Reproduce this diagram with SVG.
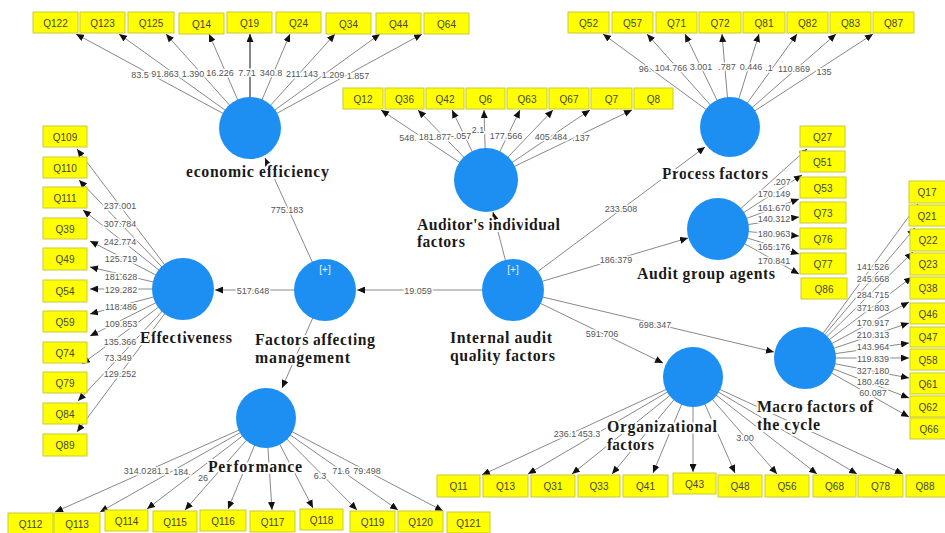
<svg xmlns="http://www.w3.org/2000/svg" width="945" height="533" viewBox="0 0 945 533">
<defs>
<marker id="ah" markerUnits="userSpaceOnUse" markerWidth="8" markerHeight="7" refX="8" refY="3.5" orient="auto"><path d="M0,0 L8,3.5 L0,7 z" fill="#111"/></marker>
</defs>
<style>
.c{stroke:#888;stroke-width:1;fill:none;marker-end:url(#ah)}
.l{font-family:"Liberation Sans",Arial,sans-serif;font-size:9px;fill:#555;text-anchor:middle;stroke:#fff;stroke-width:3;paint-order:stroke;stroke-linejoin:round}
.box{fill:#ffff00;stroke:#c9c93a;stroke-width:1}
.bt{font-family:"Liberation Sans",Arial,sans-serif;font-size:10px;fill:#444;text-anchor:middle}
.lv{fill:#1e8ff2}
.nm{font-family:"Liberation Serif","Times New Roman",serif;font-weight:bold;font-size:16px;fill:#1a1a1a;stroke:#fff;stroke-width:4;paint-order:stroke;stroke-linejoin:round}
.pl{font-family:"Liberation Sans",Arial,sans-serif;font-size:10px;fill:#e8f2ff;text-anchor:middle}
</style>
<rect width="945" height="533" fill="#fff"/>
<g id="connectors">
<line class="c" x1="325" y1="290" x2="215" y2="290"/>
<line class="c" x1="513" y1="290" x2="357" y2="290"/>
<line class="c" x1="325" y1="290" x2="265" y2="158"/>
<line class="c" x1="325" y1="290" x2="282" y2="388"/>
<line class="c" x1="513" y1="290" x2="493" y2="212"/>
<line class="c" x1="513" y1="290" x2="705" y2="147"/>
<line class="c" x1="513" y1="290" x2="688" y2="238"/>
<line class="c" x1="513" y1="290" x2="774" y2="352"/>
<line class="c" x1="513" y1="290" x2="663" y2="363"/>
<line class="c" x1="250" y1="128" x2="76" y2="34"/>
<line class="c" x1="250" y1="128" x2="119" y2="34"/>
<line class="c" x1="250" y1="128" x2="166" y2="34"/>
<line class="c" x1="250" y1="128" x2="209" y2="34"/>
<line class="c" x1="250" y1="128" x2="250" y2="34" style="stroke-width:2"/>
<line class="c" x1="250" y1="128" x2="290" y2="34"/>
<line class="c" x1="250" y1="128" x2="335" y2="34"/>
<line class="c" x1="250" y1="128" x2="380" y2="34"/>
<line class="c" x1="250" y1="128" x2="422" y2="34"/>
<line class="c" x1="486" y1="180" x2="381" y2="110"/>
<line class="c" x1="486" y1="180" x2="418" y2="110"/>
<line class="c" x1="486" y1="180" x2="452" y2="110"/>
<line class="c" x1="486" y1="180" x2="484" y2="110"/>
<line class="c" x1="486" y1="180" x2="520" y2="110"/>
<line class="c" x1="486" y1="180" x2="553" y2="110"/>
<line class="c" x1="486" y1="180" x2="590" y2="110"/>
<line class="c" x1="486" y1="180" x2="632" y2="110"/>
<line class="c" x1="730" y1="127" x2="603" y2="34"/>
<line class="c" x1="730" y1="127" x2="647" y2="34"/>
<line class="c" x1="730" y1="127" x2="685" y2="34"/>
<line class="c" x1="730" y1="127" x2="722" y2="34"/>
<line class="c" x1="730" y1="127" x2="759" y2="34"/>
<line class="c" x1="730" y1="127" x2="797" y2="34"/>
<line class="c" x1="730" y1="127" x2="836" y2="34"/>
<line class="c" x1="730" y1="127" x2="873" y2="34"/>
<line class="c" x1="718" y1="229" x2="807" y2="149"/>
<line class="c" x1="718" y1="229" x2="802" y2="175"/>
<line class="c" x1="718" y1="229" x2="799" y2="199"/>
<line class="c" x1="718" y1="229" x2="799" y2="217"/>
<line class="c" x1="718" y1="229" x2="799" y2="236"/>
<line class="c" x1="718" y1="229" x2="799" y2="254"/>
<line class="c" x1="718" y1="229" x2="799" y2="274"/>
<line class="c" x1="805" y1="358" x2="918" y2="204"/>
<line class="c" x1="805" y1="358" x2="915" y2="228"/>
<line class="c" x1="805" y1="358" x2="913" y2="252"/>
<line class="c" x1="805" y1="358" x2="912" y2="277"/>
<line class="c" x1="805" y1="358" x2="909" y2="302"/>
<line class="c" x1="805" y1="358" x2="909" y2="323"/>
<line class="c" x1="805" y1="358" x2="909" y2="343"/>
<line class="c" x1="805" y1="358" x2="909" y2="358"/>
<line class="c" x1="805" y1="358" x2="909" y2="378"/>
<line class="c" x1="805" y1="358" x2="909" y2="398"/>
<line class="c" x1="805" y1="358" x2="909" y2="417"/>
<line class="c" x1="183" y1="289" x2="77" y2="149"/>
<line class="c" x1="183" y1="289" x2="79" y2="180"/>
<line class="c" x1="183" y1="289" x2="83" y2="210"/>
<line class="c" x1="183" y1="289" x2="90" y2="241"/>
<line class="c" x1="183" y1="289" x2="90" y2="267"/>
<line class="c" x1="183" y1="289" x2="90" y2="289"/>
<line class="c" x1="183" y1="289" x2="90" y2="314"/>
<line class="c" x1="183" y1="289" x2="90" y2="336"/>
<line class="c" x1="183" y1="289" x2="82" y2="364"/>
<line class="c" x1="183" y1="289" x2="78" y2="401"/>
<line class="c" x1="183" y1="289" x2="77" y2="432"/>
<line class="c" x1="266" y1="418" x2="55" y2="512"/>
<line class="c" x1="266" y1="418" x2="100" y2="512"/>
<line class="c" x1="266" y1="418" x2="147" y2="509"/>
<line class="c" x1="266" y1="418" x2="185" y2="510"/>
<line class="c" x1="266" y1="418" x2="228" y2="509"/>
<line class="c" x1="266" y1="418" x2="272" y2="510"/>
<line class="c" x1="266" y1="418" x2="313" y2="508"/>
<line class="c" x1="266" y1="418" x2="357" y2="510"/>
<line class="c" x1="266" y1="418" x2="398" y2="510"/>
<line class="c" x1="266" y1="418" x2="443" y2="511"/>
<line class="c" x1="693" y1="377" x2="482" y2="475"/>
<line class="c" x1="693" y1="377" x2="528" y2="474"/>
<line class="c" x1="693" y1="377" x2="572" y2="474"/>
<line class="c" x1="693" y1="377" x2="612" y2="474"/>
<line class="c" x1="693" y1="377" x2="653" y2="473"/>
<line class="c" x1="693" y1="377" x2="693" y2="472"/>
<line class="c" x1="693" y1="377" x2="735" y2="473"/>
<line class="c" x1="693" y1="377" x2="777" y2="474"/>
<line class="c" x1="693" y1="377" x2="817" y2="474"/>
<line class="c" x1="693" y1="377" x2="857" y2="474"/>
<line class="c" x1="693" y1="377" x2="903" y2="474"/>
<text class="l" x="253" y="294">517.648</text>
<text class="l" x="418" y="294">19.059</text>
<text class="l" x="287" y="213">775.183</text>
<text class="l" x="621" y="212">233.508</text>
<text class="l" x="616" y="263">186.379</text>
<text class="l" x="655" y="328">698.347</text>
<text class="l" x="602" y="337">591.706</text>
<text class="l" x="140" y="78">83.5</text>
<text class="l" x="165" y="77">91.863</text>
<text class="l" x="193" y="77">1.390</text>
<text class="l" x="220" y="76">16.226</text>
<text class="l" x="247" y="76">7.71</text>
<text class="l" x="271" y="76">340.8</text>
<text class="l" x="302" y="77">211.143</text>
<text class="l" x="333" y="78">1.209</text>
<text class="l" x="358" y="79">1.857</text>
<text class="l" x="408" y="141">548.</text>
<text class="l" x="435" y="140">181.877</text>
<text class="l" x="461" y="139">-.057</text>
<text class="l" x="478" y="133">2.1</text>
<text class="l" x="506" y="139">177.566</text>
<text class="l" x="551" y="140">405.484</text>
<text class="l" x="581" y="141">.137</text>
<text class="l" x="645" y="72">96.</text>
<text class="l" x="671" y="71">104.766</text>
<text class="l" x="701" y="70">3.001</text>
<text class="l" x="727" y="70">.787</text>
<text class="l" x="751" y="70">0.446</text>
<text class="l" x="769" y="71">.1</text>
<text class="l" x="794" y="72">110.869</text>
<text class="l" x="824" y="75">135</text>
<text class="l" x="782" y="185">.207</text>
<text class="l" x="774" y="197">170.149</text>
<text class="l" x="774" y="211">161.670</text>
<text class="l" x="774" y="222">140.312</text>
<text class="l" x="774" y="237">180.963</text>
<text class="l" x="774" y="250">165.176</text>
<text class="l" x="774" y="264">170.841</text>
<text class="l" x="873" y="270">141.526</text>
<text class="l" x="873" y="282">245.668</text>
<text class="l" x="873" y="298">284.715</text>
<text class="l" x="873" y="311">371.803</text>
<text class="l" x="873" y="326">170.917</text>
<text class="l" x="873" y="338">210.313</text>
<text class="l" x="873" y="350">143.964</text>
<text class="l" x="873" y="362">119.839</text>
<text class="l" x="873" y="374">327.180</text>
<text class="l" x="873" y="385">180.462</text>
<text class="l" x="873" y="396">60.087</text>
<text class="l" x="120" y="209">237.001</text>
<text class="l" x="120" y="227">307.784</text>
<text class="l" x="120" y="245">242.774</text>
<text class="l" x="121" y="262">125.719</text>
<text class="l" x="121" y="280">181.628</text>
<text class="l" x="121" y="293">129.282</text>
<text class="l" x="121" y="310">118.486</text>
<text class="l" x="121" y="327">109.853</text>
<text class="l" x="120" y="345">135.366</text>
<text class="l" x="118" y="361">73.349</text>
<text class="l" x="120" y="377">129.252</text>
<text class="l" x="135" y="474">314.0</text>
<text class="l" x="158" y="474">281.1</text>
<text class="l" x="182" y="475">184.</text>
<text class="l" x="203" y="481">26</text>
<text class="l" x="320" y="479">6.3</text>
<text class="l" x="341" y="474">71.6</text>
<text class="l" x="367" y="474">79.498</text>
<text class="l" x="565" y="437">236.1</text>
<text class="l" x="589" y="437">453.3</text>
<text class="l" x="745" y="441">3.00</text>
</g>
<g id="economic_efficiency">
<circle class="lv" cx="250" cy="128" r="31"/>
<text class="nm" x="186" y="177" textLength="143">economic efficiency</text>
</g>
<g id="auditors_individual_factors">
<circle class="lv" cx="486" cy="180" r="32"/>
<text class="nm" x="417" y="230" textLength="143">Auditor's individual</text>
<text class="nm" x="417" y="247" textLength="48">factors</text>
</g>
<g id="process_factors">
<circle class="lv" cx="730" cy="127" r="30"/>
<text class="nm" x="662" y="179" textLength="106">Process factors</text>
</g>
<g id="audit_group_agents">
<circle class="lv" cx="718" cy="229" r="31"/>
<text class="nm" x="637" y="279" textLength="138">Audit group agents</text>
</g>
<g id="macro_factors">
<circle class="lv" cx="805" cy="358" r="31"/>
<text class="nm" x="757" y="412" textLength="116">Macro factors of</text>
<text class="nm" x="757" y="430" textLength="63">the cycle</text>
</g>
<g id="organizational_factors">
<circle class="lv" cx="693" cy="377" r="30"/>
<text class="nm" x="607" y="432" textLength="110">Organizational</text>
<text class="nm" x="607" y="450" textLength="47">factors</text>
</g>
<g id="internal_audit_quality_factors">
<circle class="lv" cx="513" cy="290" r="31"/>
<text class="pl" x="513" y="273">[+]</text>
<text class="nm" x="450" y="343" textLength="102">Internal audit</text>
<text class="nm" x="450" y="361" textLength="105">quality factors</text>
</g>
<g id="factors_affecting_management">
<circle class="lv" cx="325" cy="290" r="31"/>
<text class="pl" x="325" y="273">[+]</text>
<text class="nm" x="255" y="345" textLength="120">Factors affecting</text>
<text class="nm" x="255" y="363" textLength="95">management</text>
</g>
<g id="effectiveness">
<circle class="lv" cx="183" cy="289" r="31"/>
<text class="nm" x="140" y="343" textLength="92">Effectiveness</text>
</g>
<g id="performance">
<circle class="lv" cx="266" cy="418" r="30"/>
<text class="nm" x="208" y="472" textLength="94">Performance</text>
</g>
<g id="Q122"><rect class="box" x="33" y="12" width="45" height="21"/><text class="bt" x="55.5" y="26.5">Q122</text></g>
<g id="Q123"><rect class="box" x="80" y="12" width="45" height="21"/><text class="bt" x="102.5" y="26.5">Q123</text></g>
<g id="Q125"><rect class="box" x="128" y="12" width="46" height="21"/><text class="bt" x="151" y="26.5">Q125</text></g>
<g id="Q14"><rect class="box" x="179" y="13" width="45" height="21"/><text class="bt" x="201.5" y="27.5">Q14</text></g>
<g id="Q19"><rect class="box" x="227" y="12" width="45" height="21"/><text class="bt" x="249.5" y="26.5">Q19</text></g>
<g id="Q24"><rect class="box" x="276" y="12" width="45" height="21"/><text class="bt" x="298.5" y="26.5">Q24</text></g>
<g id="Q34"><rect class="box" x="326" y="13" width="45" height="21"/><text class="bt" x="348.5" y="27.5">Q34</text></g>
<g id="Q44"><rect class="box" x="376" y="13" width="45" height="21"/><text class="bt" x="398.5" y="27.5">Q44</text></g>
<g id="Q64"><rect class="box" x="424" y="13" width="45" height="21"/><text class="bt" x="446.5" y="27.5">Q64</text></g>
<g id="Q12"><rect class="box" x="343" y="88" width="40" height="21"/><text class="bt" x="363" y="102.5">Q12</text></g>
<g id="Q36"><rect class="box" x="385" y="88" width="39" height="21"/><text class="bt" x="404.5" y="102.5">Q36</text></g>
<g id="Q42"><rect class="box" x="426" y="88" width="38" height="21"/><text class="bt" x="445" y="102.5">Q42</text></g>
<g id="Q6"><rect class="box" x="466" y="88" width="39" height="21"/><text class="bt" x="485.5" y="102.5">Q6</text></g>
<g id="Q63"><rect class="box" x="507" y="88" width="40" height="21"/><text class="bt" x="527" y="102.5">Q63</text></g>
<g id="Q67"><rect class="box" x="549" y="88" width="40" height="21"/><text class="bt" x="569" y="102.5">Q67</text></g>
<g id="Q7"><rect class="box" x="591" y="88" width="41" height="21"/><text class="bt" x="611.5" y="102.5">Q7</text></g>
<g id="Q8"><rect class="box" x="634" y="88" width="39" height="21"/><text class="bt" x="653.5" y="102.5">Q8</text></g>
<g id="Q52"><rect class="box" x="568" y="12" width="41" height="21"/><text class="bt" x="588.5" y="26.5">Q52</text></g>
<g id="Q57"><rect class="box" x="612" y="12" width="41" height="21"/><text class="bt" x="632.5" y="26.5">Q57</text></g>
<g id="Q71"><rect class="box" x="656" y="12" width="41" height="21"/><text class="bt" x="676.5" y="26.5">Q71</text></g>
<g id="Q72"><rect class="box" x="699" y="12" width="42" height="21"/><text class="bt" x="720" y="26.5">Q72</text></g>
<g id="Q81"><rect class="box" x="743" y="12" width="42" height="21"/><text class="bt" x="764" y="26.5">Q81</text></g>
<g id="Q82"><rect class="box" x="787" y="12" width="41" height="21"/><text class="bt" x="807.5" y="26.5">Q82</text></g>
<g id="Q83"><rect class="box" x="830" y="12" width="41" height="21"/><text class="bt" x="850.5" y="26.5">Q83</text></g>
<g id="Q87"><rect class="box" x="873" y="12" width="41" height="21"/><text class="bt" x="893.5" y="26.5">Q87</text></g>
<g id="Q27"><rect class="box" x="800" y="126" width="45" height="21"/><text class="bt" x="822.5" y="140.5">Q27</text></g>
<g id="Q51"><rect class="box" x="800" y="151" width="45" height="21"/><text class="bt" x="822.5" y="165.5">Q51</text></g>
<g id="Q53"><rect class="box" x="800" y="177" width="46" height="21"/><text class="bt" x="823" y="191.5">Q53</text></g>
<g id="Q73"><rect class="box" x="800" y="202" width="46" height="21"/><text class="bt" x="823" y="216.5">Q73</text></g>
<g id="Q76"><rect class="box" x="800" y="228" width="46" height="21"/><text class="bt" x="823" y="242.5">Q76</text></g>
<g id="Q77"><rect class="box" x="800" y="253" width="46" height="21"/><text class="bt" x="823" y="267.5">Q77</text></g>
<g id="Q86"><rect class="box" x="801" y="278" width="46" height="21"/><text class="bt" x="824" y="292.5">Q86</text></g>
<g id="Q17"><rect class="box" x="909" y="181" width="44" height="22"/><text class="bt" x="927" y="196">Q17</text></g>
<g id="Q21"><rect class="box" x="909" y="205" width="44" height="21"/><text class="bt" x="927" y="219.5">Q21</text></g>
<g id="Q22"><rect class="box" x="910" y="229" width="44" height="22"/><text class="bt" x="928" y="244">Q22</text></g>
<g id="Q23"><rect class="box" x="910" y="253" width="44" height="22"/><text class="bt" x="928" y="268">Q23</text></g>
<g id="Q38"><rect class="box" x="910" y="277" width="44" height="22"/><text class="bt" x="928" y="292">Q38</text></g>
<g id="Q46"><rect class="box" x="910" y="303" width="44" height="21"/><text class="bt" x="928" y="317.5">Q46</text></g>
<g id="Q47"><rect class="box" x="910" y="327" width="44" height="20"/><text class="bt" x="928" y="341">Q47</text></g>
<g id="Q58"><rect class="box" x="910" y="349" width="44" height="21"/><text class="bt" x="928" y="363.5">Q58</text></g>
<g id="Q61"><rect class="box" x="910" y="373" width="44" height="21"/><text class="bt" x="928" y="387.5">Q61</text></g>
<g id="Q62"><rect class="box" x="910" y="396" width="44" height="21"/><text class="bt" x="928" y="410.5">Q62</text></g>
<g id="Q66"><rect class="box" x="910" y="418" width="44" height="21"/><text class="bt" x="929" y="432.5">Q66</text></g>
<g id="Q109"><rect class="box" x="43" y="126" width="44" height="21"/><text class="bt" x="65" y="140.5">Q109</text></g>
<g id="Q110"><rect class="box" x="43" y="157" width="44" height="21"/><text class="bt" x="65" y="171.5">Q110</text></g>
<g id="Q111"><rect class="box" x="43" y="187" width="44" height="21"/><text class="bt" x="65" y="201.5">Q111</text></g>
<g id="Q39"><rect class="box" x="43" y="218" width="44" height="21"/><text class="bt" x="65" y="232.5">Q39</text></g>
<g id="Q49"><rect class="box" x="43" y="248" width="44" height="22"/><text class="bt" x="65" y="263">Q49</text></g>
<g id="Q54"><rect class="box" x="43" y="280" width="44" height="22"/><text class="bt" x="65" y="295">Q54</text></g>
<g id="Q59"><rect class="box" x="43" y="311" width="44" height="21"/><text class="bt" x="65" y="325.5">Q59</text></g>
<g id="Q74"><rect class="box" x="43" y="342" width="44" height="21"/><text class="bt" x="65" y="356.5">Q74</text></g>
<g id="Q79"><rect class="box" x="43" y="372" width="44" height="21"/><text class="bt" x="65" y="386.5">Q79</text></g>
<g id="Q84"><rect class="box" x="43" y="403" width="44" height="21"/><text class="bt" x="65" y="417.5">Q84</text></g>
<g id="Q89"><rect class="box" x="43" y="434" width="44" height="22"/><text class="bt" x="65" y="449">Q89</text></g>
<g id="Q112"><rect class="box" x="8" y="513" width="45" height="21"/><text class="bt" x="30.5" y="527.5">Q112</text></g>
<g id="Q113"><rect class="box" x="54" y="513" width="46" height="21"/><text class="bt" x="77" y="527.5">Q113</text></g>
<g id="Q114"><rect class="box" x="105" y="510" width="43" height="21"/><text class="bt" x="126.5" y="524.5">Q114</text></g>
<g id="Q115"><rect class="box" x="153" y="511" width="44" height="21"/><text class="bt" x="175" y="525.5">Q115</text></g>
<g id="Q116"><rect class="box" x="200" y="510" width="46" height="21"/><text class="bt" x="223" y="524.5">Q116</text></g>
<g id="Q117"><rect class="box" x="250" y="511" width="45" height="21"/><text class="bt" x="272.5" y="525.5">Q117</text></g>
<g id="Q118"><rect class="box" x="300" y="509" width="43" height="21"/><text class="bt" x="321.5" y="523.5">Q118</text></g>
<g id="Q119"><rect class="box" x="350" y="511" width="45" height="21"/><text class="bt" x="372.5" y="525.5">Q119</text></g>
<g id="Q120"><rect class="box" x="398" y="511" width="45" height="21"/><text class="bt" x="420.5" y="525.5">Q120</text></g>
<g id="Q121"><rect class="box" x="447" y="512" width="43" height="21"/><text class="bt" x="468.5" y="526.5">Q121</text></g>
<g id="Q11"><rect class="box" x="437" y="475" width="43" height="22"/><text class="bt" x="458.5" y="490">Q11</text></g>
<g id="Q13"><rect class="box" x="483" y="475" width="45" height="22"/><text class="bt" x="505.5" y="490">Q13</text></g>
<g id="Q31"><rect class="box" x="531" y="475" width="44" height="22"/><text class="bt" x="553" y="490">Q31</text></g>
<g id="Q33"><rect class="box" x="578" y="475" width="42" height="22"/><text class="bt" x="599" y="490">Q33</text></g>
<g id="Q41"><rect class="box" x="623" y="475" width="45" height="22"/><text class="bt" x="645.5" y="490">Q41</text></g>
<g id="Q43"><rect class="box" x="673" y="473" width="43" height="21"/><text class="bt" x="694.5" y="487.5">Q43</text></g>
<g id="Q48"><rect class="box" x="718" y="475" width="44" height="22"/><text class="bt" x="740" y="490">Q48</text></g>
<g id="Q56"><rect class="box" x="765" y="475" width="44" height="22"/><text class="bt" x="787" y="490">Q56</text></g>
<g id="Q68"><rect class="box" x="813" y="475" width="43" height="22"/><text class="bt" x="834.5" y="490">Q68</text></g>
<g id="Q78"><rect class="box" x="858" y="475" width="45" height="22"/><text class="bt" x="880.5" y="490">Q78</text></g>
<g id="Q88"><rect class="box" x="906" y="475" width="40" height="22"/><text class="bt" x="925" y="490">Q88</text></g>
</svg>
